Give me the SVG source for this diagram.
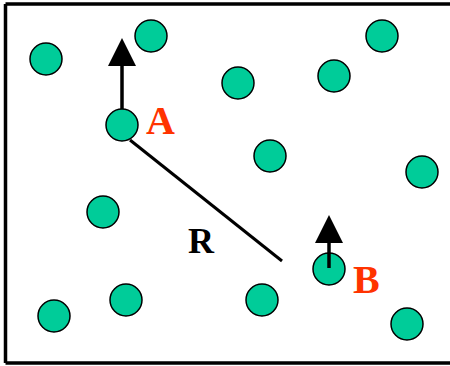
<svg xmlns="http://www.w3.org/2000/svg" width="450" height="366" viewBox="0 0 450 366">
<style>
.n circle{fill:#00CC99;stroke:#000;stroke-width:1.5}
.lbl{font-family:"Liberation Serif",serif;font-weight:bold}
.red{fill:#FF3300}
</style>
<rect width="450" height="366" fill="#fff"/>
<path d="M5.5,4 H452 M5.5,363 H452 M5.5,4 V363" fill="none" stroke="#000" stroke-width="3.5"/>
<g id="n1" class="n"><circle cx="46" cy="59" r="16"/></g>
<g id="n2" class="n"><circle cx="151" cy="36" r="16"/></g>
<g id="A" class="n"><circle cx="122" cy="125" r="16"/></g>
<g id="n4" class="n"><circle cx="382" cy="36" r="16"/></g>
<g id="n5" class="n"><circle cx="334" cy="76" r="16"/></g>
<g id="n6" class="n"><circle cx="238" cy="83" r="16"/></g>
<g id="n7" class="n"><circle cx="270" cy="156" r="16"/></g>
<g id="n8" class="n"><circle cx="422" cy="172" r="16"/></g>
<g id="n9" class="n"><circle cx="103" cy="212" r="16"/></g>
<g id="n10" class="n"><circle cx="126" cy="300" r="16"/></g>
<g id="n11" class="n"><circle cx="54" cy="316" r="16"/></g>
<g id="B" class="n"><circle cx="329" cy="269" r="16"/></g>
<g id="n13" class="n"><circle cx="262" cy="300" r="16"/></g>
<g id="n14" class="n"><circle cx="407" cy="324" r="16"/></g>
<g id="connectors">
<line x1="130" y1="140" x2="282" y2="261" stroke="#000" stroke-width="3"/>
<line x1="122" y1="109" x2="122" y2="64" stroke="#000" stroke-width="3.5"/>
<polygon points="122,38 136,66 108,66" fill="#000"/>
<line x1="329" y1="268" x2="329" y2="240" stroke="#000" stroke-width="3.5"/>
<polygon points="329,215 343,243 315,243" fill="#000"/>
</g>
<text class="lbl red" x="146" y="134" font-size="40">A</text>
<text class="lbl red" x="353" y="293" font-size="40">B</text>
<text class="lbl" x="188" y="253" font-size="36">R</text>
</svg>
